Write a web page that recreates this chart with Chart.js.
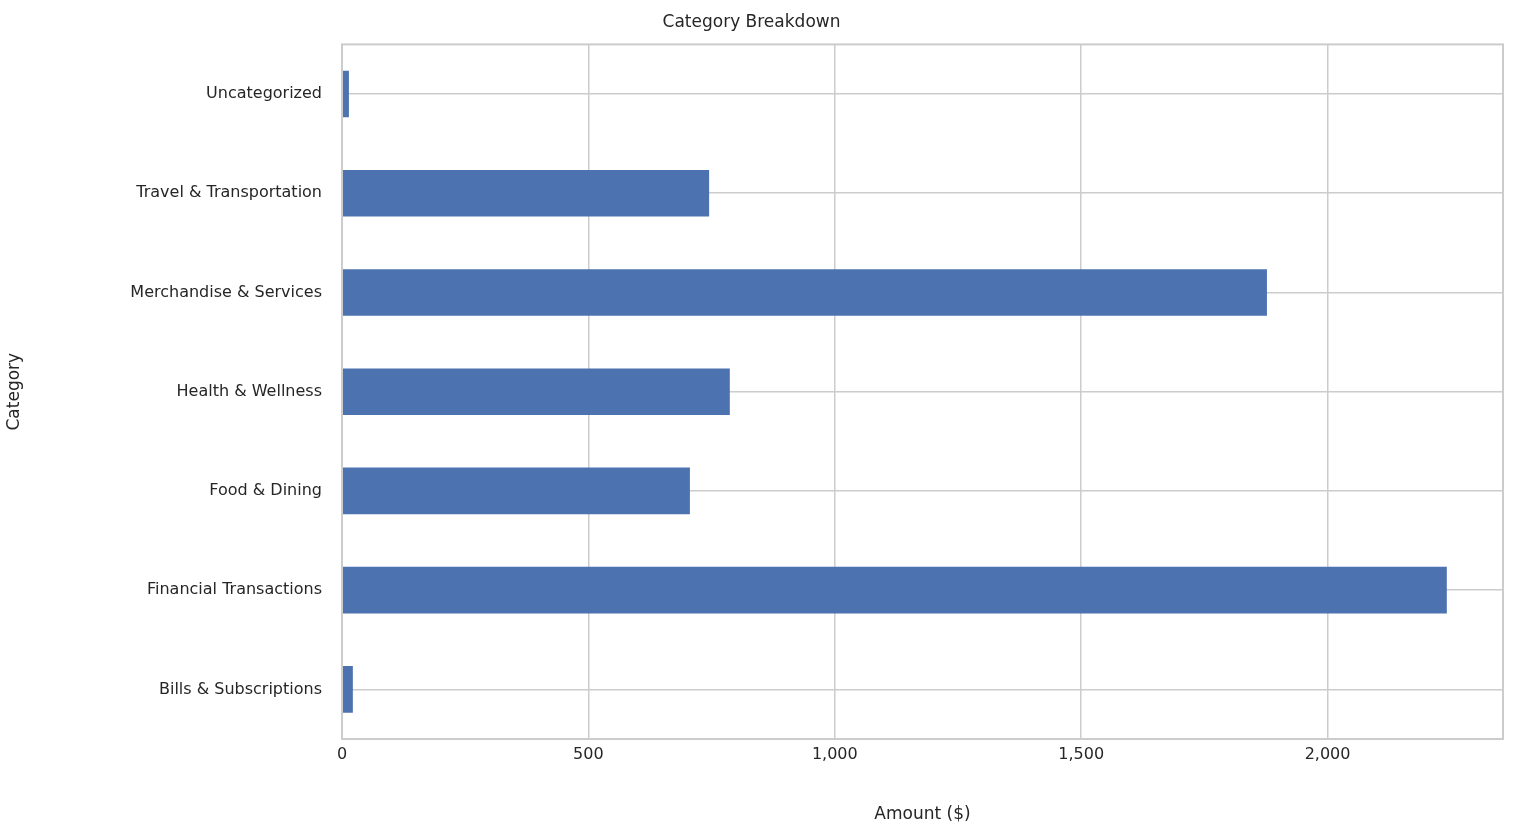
<!DOCTYPE html>
<html>
<head>
<meta charset="utf-8">
<script src="https://cdn.jsdelivr.net/npm/chart.js@4"></script>
<style>
  html, body { margin: 0; padding: 0; background: #fff; }
  #wrap { width: 1518px; height: 829px; }
</style>
</head>
<body>
<div id="wrap"><canvas id="chart"></canvas></div>
<script>
const categories = ['Uncategorized', 'Travel & Transportation', 'Merchandise & Services',
  'Health & Wellness', 'Food & Dining', 'Financial Transactions', 'Bills & Subscriptions'];
const amounts = [14, 745, 1877, 787, 706, 2242, 22];
const xTicks = [0, 500, 1000, 1500, 2000];

const font = { family: 'DejaVu Sans', size: 16 };
const textColor = '#262626';
const gridColor = '#cccccc';

// box around the plot area
const frame = {
  id: 'frame',
  afterDraw(chart) {
    const { ctx, chartArea: a } = chart;
    ctx.save();
    ctx.strokeStyle = gridColor;
    ctx.lineWidth = 2;
    ctx.strokeRect(a.left, a.top, a.right - a.left, a.bottom - a.top);
    ctx.restore();
  }
};

new Chart(document.getElementById('chart'), {
  type: 'bar',
  data: {
    labels: categories,
    datasets: [{
      data: amounts,
      backgroundColor: '#4c72b0',
      barPercentage: 0.47,
      categoryPercentage: 1
    }]
  },
  options: {
    indexAxis: 'y',
    responsive: true,
    maintainAspectRatio: false,
    animation: false,
    layout: { padding: { left: 0, right: 15, top: 0, bottom: 0 } },
    plugins: {
      legend: { display: false },
      tooltip: { enabled: false },
      title: {
        display: true,
        text: 'Category Breakdown',
        color: textColor,
        font: { family: 'DejaVu Sans', size: 17, weight: 'normal' },
        padding: { top: 12, bottom: 12 }
      }
    },
    scales: {
      x: {
        min: 0,
        max: 2356,
        afterBuildTicks(scale) { scale.ticks = xTicks.map(v => ({ value: v })); },
        afterFit(scale) { scale.height = 90; },
        ticks: { color: textColor, font, padding: 6 },
        grid: { color: gridColor, lineWidth: 1.5, drawTicks: false },
        border: { display: false },
        title: { display: true, text: 'Amount ($)', color: textColor, font: { family: 'DejaVu Sans', size: 17 } }
      },
      y: {
        afterFit(scale) { scale.width = 342; },
        ticks: { color: textColor, font, padding: 20 },
        grid: { color: gridColor, lineWidth: 1.5, offset: false, drawTicks: false },
        border: { display: false },
        title: { display: true, text: 'Category', color: textColor, font: { family: 'DejaVu Sans', size: 17 } }
      }
    }
  },
  plugins: [frame]
});
</script>
</body>
</html>
